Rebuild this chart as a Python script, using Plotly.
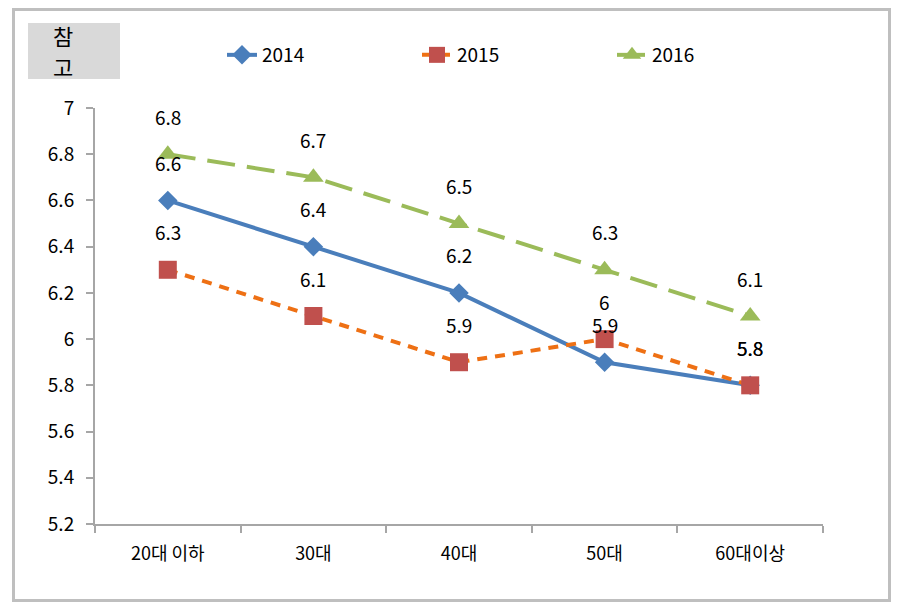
import plotly.graph_objects as go

categories = ["20대 이하", "30대", "40대", "50대", "60대이상"]
years = ["2014", "2015", "2016"]
v2014 = [6.6, 6.4, 6.2, 5.9, 5.8]
v2015 = [6.3, 6.1, 5.9, 6.0, 5.8]
v2016 = [6.8, 6.7, 6.5, 6.3, 6.1]
y_ticks = [5.2, 5.4, 5.6, 5.8, 6.0, 6.2, 6.4, 6.6, 6.8, 7.0]

FONT = "Noto Sans CJK KR"
# page has an 8px body margin; figure coords = page coords - 8
W, H = 883, 594
L, T = 87, 100          # plot area left / top (figure px)
PW, PH = 728, 416       # plot area width / height


def px(x):  # page x -> paper
    return (x - 8 - L) / PW


def py(y):  # page y -> paper
    return (T + PH - (y - 8)) / PH


series = [
    dict(name=years[0], vals=v2014, line=dict(color="#4A7EBB", width=4, dash="solid"),
         marker=dict(symbol="diamond", size=15, color="#4A7EBB")),
    dict(name=years[1], vals=v2015, line=dict(color="#EE7014", width=4, dash="10px,8px"),
         marker=dict(symbol="square", size=18, color="#C0504D")),
    dict(name=years[2], vals=v2016, line=dict(color="#9BBB59", width=4, dash="28px,12px"),
         marker=dict(symbol="triangle-up", size=18, color="#9BBB59")),
]

fig = go.Figure()
annotations = []
for s in series:
    fig.add_trace(go.Scatter(
        x=categories, y=s["vals"], name=s["name"], mode="lines+markers",
        line=s["line"], marker=s["marker"],
    ))
    for c, v in zip(categories, s["vals"]):
        annotations.append(dict(
            x=c, y=v, xref="x", yref="y", text=f"{v:g}", showarrow=False,
            yshift=38, font=dict(family=FONT, size=19, color="#000000"),
        ))

# '참고' label
for ch, yy in (("참", 35), ("고", 66)):
    annotations.append(dict(
        x=px(63), y=py(yy), xref="paper", yref="paper",
        text=ch, showarrow=False, borderpad=0,
        font=dict(family=FONT, size=22, color="#000000"),
        xanchor="center", yanchor="middle",
    ))

shapes = [
    # outer frame
    dict(type="rect", xref="paper", yref="paper",
         x0=px(13.5), x1=px(889.5), y0=py(600.5), y1=py(9.5),
         line=dict(color="#BFBFBF", width=3), fillcolor="rgba(0,0,0,0)", layer="below"),
    # gray box
    dict(type="rect", xref="paper", yref="paper",
         x0=px(28), x1=px(120), y0=py(79), y1=py(23),
         line=dict(width=0), fillcolor="#D9D9D9", layer="below"),
]

fig.update_layout(
    width=W, height=H,
    margin=dict(l=L, r=W - L - PW, t=T, b=H - T - PH),
    paper_bgcolor="white", plot_bgcolor="white",
    font=dict(family=FONT, size=19, color="#000000"),
    showlegend=True,
    legend=dict(orientation="h", x=px(222), xanchor="left",
                y=py(55), yanchor="middle", entrywidth=150,
                font=dict(family=FONT, size=19),
                bgcolor="rgba(0,0,0,0)"),
    annotations=annotations,
    shapes=shapes,
)
fig.update_xaxes(
    type="category", range=[-0.5, 4.5], showgrid=False,
    showline=True, linecolor="#A6A6A6", linewidth=2,
    ticks="outside", tickson="boundaries", ticklen=7, tickcolor="#A6A6A6", tickwidth=2,
    tickfont=dict(family=FONT, size=18), zeroline=False, ticklabelstandoff=12,
)
fig.update_yaxes(
    range=[5.2, 7.0], tickvals=y_ticks, showgrid=False,
    showline=True, linecolor="#A6A6A6", linewidth=2,
    ticks="outside", ticklen=7, tickcolor="#A6A6A6", tickwidth=2,
    tickfont=dict(family=FONT, size=19), zeroline=False, ticklabelstandoff=8,
)

fig.write_html("out.html")
